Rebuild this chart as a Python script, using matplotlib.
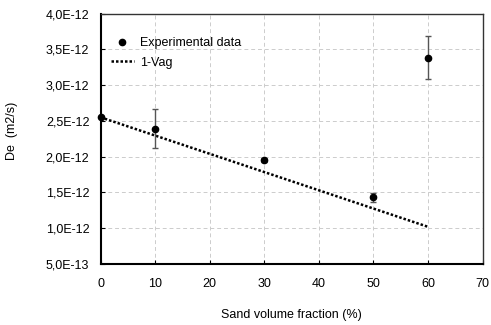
import matplotlib
matplotlib.use("Agg")
import matplotlib.pyplot as plt
from matplotlib.ticker import FuncFormatter, FixedLocator

plt.rcParams['font.family'] = ['Liberation Sans', 'DejaVu Sans']

# Data
sand_fraction = [0, 10, 30, 50, 60]
de_exp = [2.55e-12, 2.39e-12, 1.95e-12, 1.43e-12, 3.38e-12]
de_err = [0.02e-12, 0.27e-12, 0.03e-12, 0.06e-12, 0.30e-12]
vag_x = [0, 60]
vag_y = [2.55e-12, 1.02e-12]
x_ticks = [0, 10, 20, 30, 40, 50, 60, 70]
y_ticks = [0.5e-12, 1.0e-12, 1.5e-12, 2.0e-12, 2.5e-12, 3.0e-12, 3.5e-12, 4.0e-12]

fig = plt.figure(figsize=(4.91, 3.25), dpi=100)
ax = fig.add_axes([100.5/491, 1-264/325, 382/491, 250.5/325])

ax.errorbar(sand_fraction, de_exp, yerr=de_err, fmt='none',
            ecolor='#555555', elinewidth=1, capsize=2, capthick=1, zorder=3)
pts, = ax.plot(sand_fraction, de_exp, 'o', color='black', ms=4.5,
               label='Experimental data', zorder=4, clip_on=False)
ln, = ax.plot(vag_x, vag_y, linestyle=(0, (1, 0.8)), color='black', lw=1.8,
              label='1-Vag', zorder=2)

ax.set_xlim(0, 70)
ax.set_ylim(0.5e-12, 4.0e-12)
ax.xaxis.set_major_locator(FixedLocator(x_ticks))
ax.yaxis.set_major_locator(FixedLocator(y_ticks))
ax.yaxis.set_major_formatter(FuncFormatter(lambda v, p: f"{v:.1E}".replace('.', ',')))

ax.grid(True, color='#cccccc', linestyle=(0, (4, 3)), lw=0.7)
ax.set_axisbelow(True)
ax.tick_params(direction='in', length=3, labelsize=9, colors='black', pad=8)
ax.tick_params(axis='x', pad=10)

for s in ['left', 'bottom']:
    ax.spines[s].set_linewidth(1.5)
    ax.spines[s].set_color('black')
for s in ['top', 'right']:
    ax.spines[s].set_linewidth(1.0)
    ax.spines[s].set_color('#333333')

ax.set_xlabel('Sand volume fraction (%)', fontsize=9, labelpad=14)
ax.set_ylabel('De  (m2/s)', fontsize=9)
ax.yaxis.set_label_coords(-0.216, 0.53)

leg = ax.legend(handles=[pts, ln], loc='upper left', frameon=False, fontsize=9,
                bbox_to_anchor=(0.015, 0.925), handlelength=1.8, handletextpad=0.5,
                labelspacing=0.6, borderaxespad=0)

fig.savefig('out.png', dpi=100)
